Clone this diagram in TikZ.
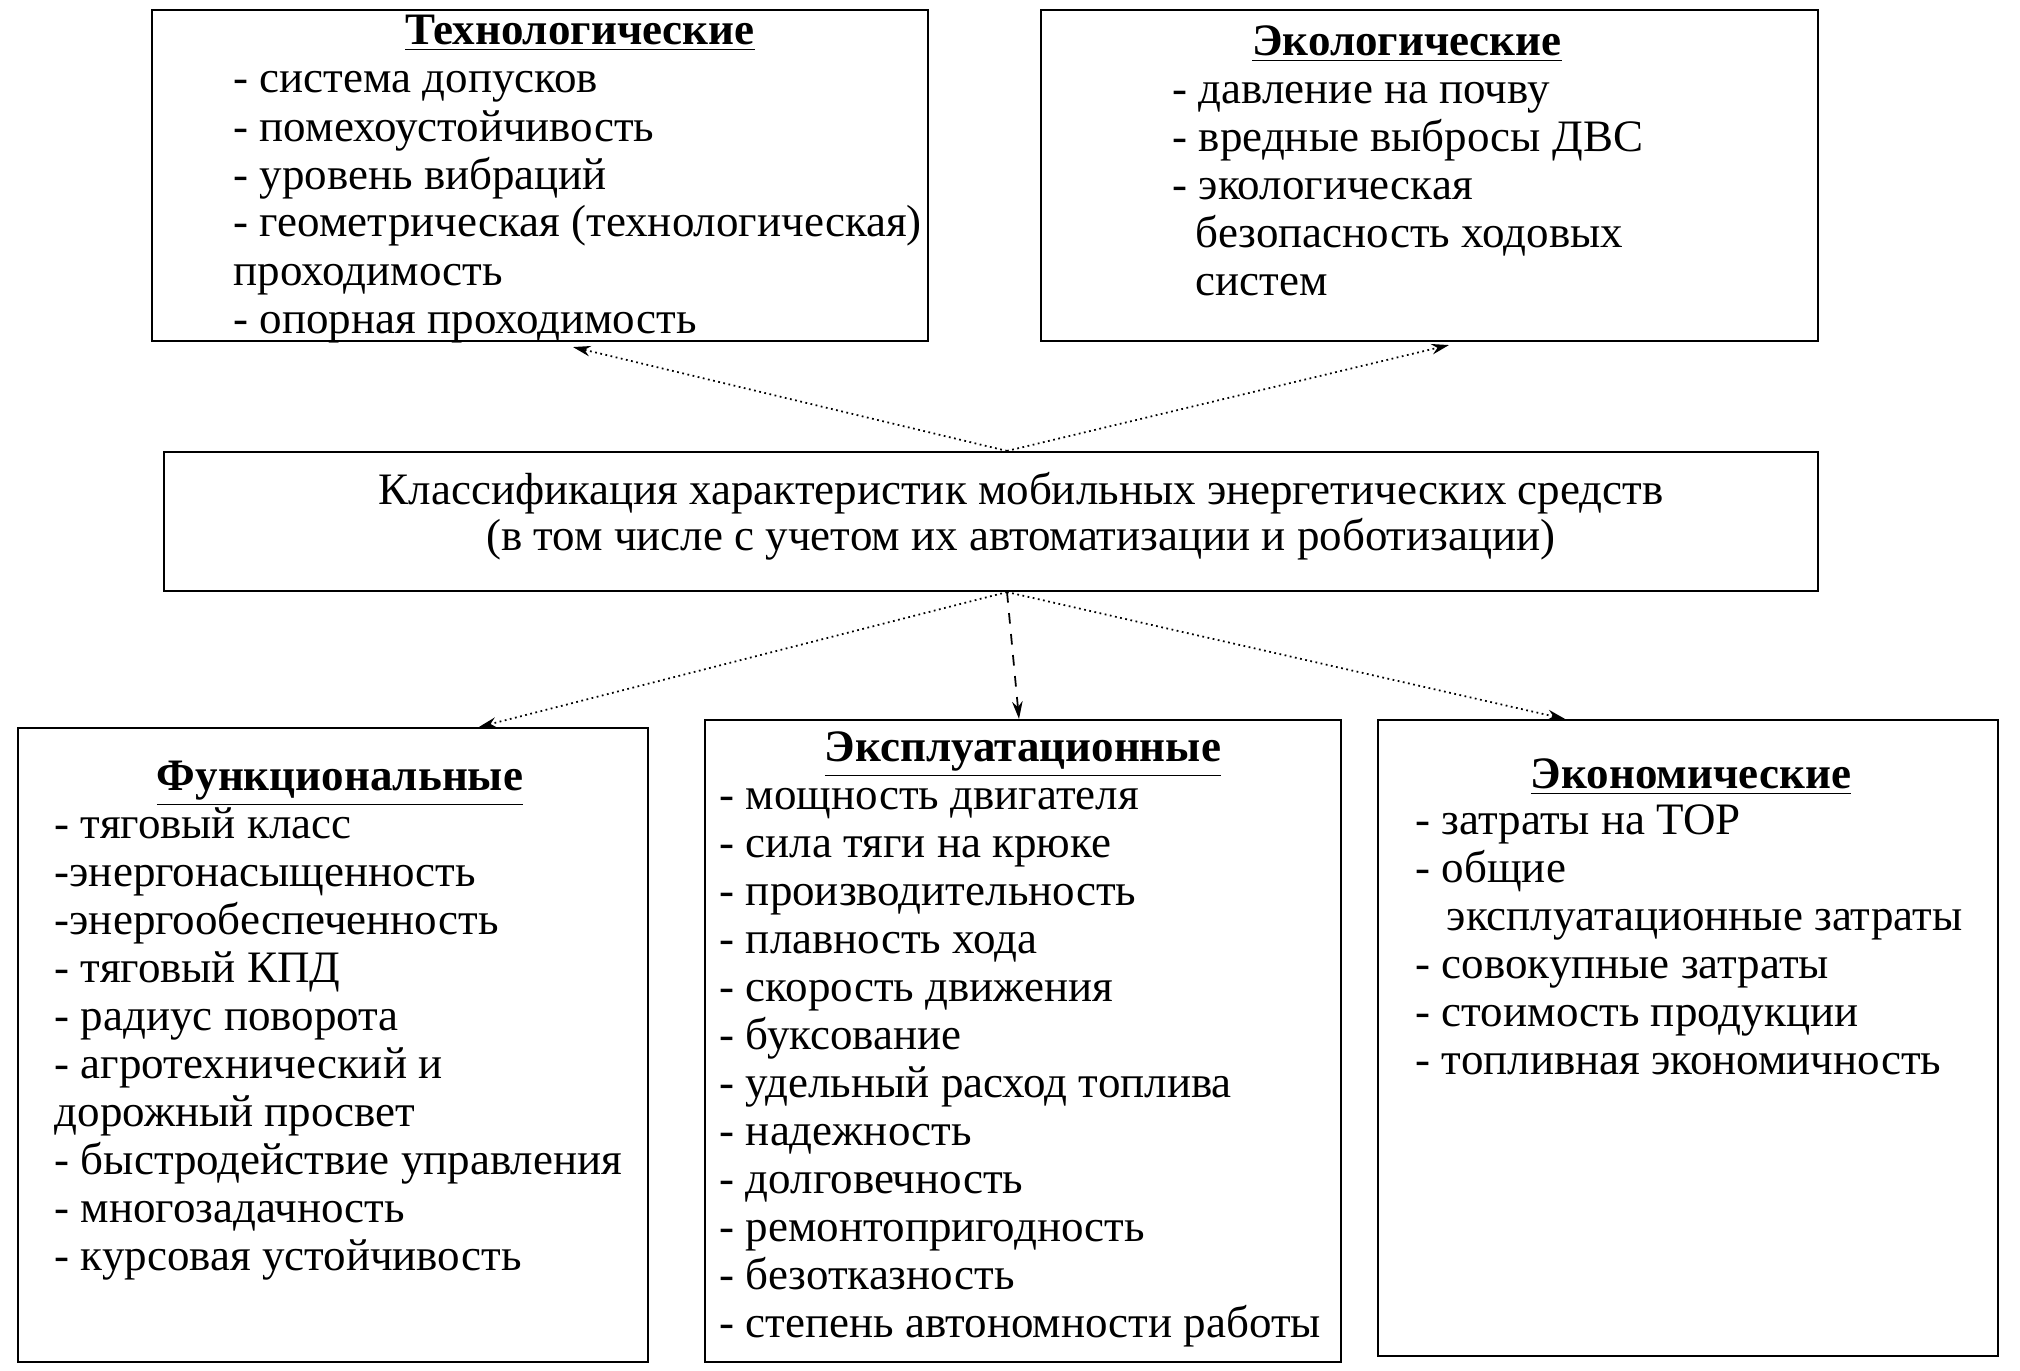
\documentclass[tikz,border=0pt]{standalone}
\usepackage{fontspec}
\setmainfont{Liberation Serif}
\usetikzlibrary{arrows.meta, positioning, calc}

\begin{document}
\begin{tikzpicture}[
        frame/.style={rectangle, draw, line width=0.6pt, inner sep=0pt},
        head/.style={font=\fontsize{12.8}{14}\selectfont\bfseries, inner sep=0pt, anchor=base},
        item/.style={font=\fontsize{12.8}{14}\selectfont, inner sep=0pt, anchor=base west},
        link/.style={-{Stealth[length=5pt,width=3pt]}, densely dotted, line width=0.5pt},
        dlink/.style={-{Stealth[length=5pt,width=3pt]}, dashed, line width=0.5pt}
    ]
        \useasboundingbox (0,0) rectangle (20.20,-13.71);

        % Frames
        \node[frame, minimum width=7.76cm, minimum height=3.31cm] (tech) at (5.40,-1.755) {};
        \node[frame, minimum width=7.77cm, minimum height=3.31cm] (eco) at (14.295,-1.755) {};
        \node[frame, minimum width=16.54cm, minimum height=1.39cm] (cls) at (9.91,-5.215) {};
        \node[frame, minimum width=6.30cm, minimum height=6.34cm] (func) at (3.33,-10.45) {};
        \node[frame, minimum width=6.36cm, minimum height=6.42cm] (expl) at (10.23,-10.41) {};
        \node[frame, minimum width=6.20cm, minimum height=6.36cm] (econ) at (16.88,-10.38) {};

        % Central text
        \node[item, anchor=base] (cls1) at (10.21,-5.04) {Классификация характеристик мобильных энергетических средств};
        \node[item, anchor=base] (cls2) at (10.21,-5.50) {(в том числе с учетом их автоматизации и роботизации)};

        % Technological
        \node[head] (techH) at (5.80,-0.44) {\underline{Технологические}};
        \foreach \t [count=\i] in {- система допусков, - помехоустойчивость, - уровень вибраций,
            - геометрическая (технологическая), проходимость, - опорная проходимость}
            \node[item] (tech-\i) at (2.33,-0.45-0.48*\i) {\t};

        % Ecological
        \node[head] (ecoH) at (14.07,-0.55) {\underline{Экологические}};
        \foreach \dx/\t [count=\i] in {0/{- давление на почву}, 0/{- вредные выбросы ДВС},
            0/{- экологическая}, 0.23/{безопасность ходовых}, 0.23/{систем}}
            \node[item] (eco-\i) at (11.72+\dx,-0.55-0.48*\i) {\t};

        % Functional
        \node[head] (funcH) at (3.40,-7.90) {\underline{Функциональные}};
        \foreach \t [count=\i] in {- тяговый класс, -энергонасыщенность, -энергообеспеченность,
            - тяговый КПД, - радиус поворота, - агротехнический и, дорожный просвет,
            - быстродействие управления, - многозадачность, - курсовая устойчивость}
            \node[item] (func-\i) at (0.54,-7.90-0.48*\i) {\t};

        % Operational
        \node[head] (explH) at (10.23,-7.61) {\underline{Эксплуатационные}};
        \foreach \t [count=\i] in {- мощность двигателя, - сила тяги на крюке, - производительность,
            - плавность хода, - скорость движения, - буксование, - удельный расход топлива,
            - надежность, - долговечность, - ремонтопригодность, - безотказность,
            - степень автономности работы}
            \node[item] (expl-\i) at (7.19,-7.61-0.48*\i) {\t};

        % Economic
        \node[head] (econH) at (16.91,-7.88) {\underline{Экономические}};
        \foreach \dx/\t [count=\i] in {0/{- затраты на ТОР}, 0/{- общие},
            0.31/{эксплуатационные затраты}, 0/{- совокупные затраты},
            0/{- стоимость продукции}, 0/{- топливная экономичность}}
            \node[item] (econ-\i) at (14.15+\dx,-7.86-0.48*\i) {\t};

        % Arrows
        \coordinate (hubU) at ([xshift=0.16cm]cls.north);
        \coordinate (hubD) at ([xshift=0.16cm]cls.south);
        \draw[link] (hubU) -- ([xshift=0.33cm, yshift=-0.05cm]tech.south);
        \draw[link] (hubU) -- ([xshift=0.195cm, yshift=-0.03cm]eco.south);
        \draw[link] (hubD) -- ([xshift=1.46cm]func.north);
        \draw[dlink] (hubD) -- ([xshift=-0.04cm]expl.north);
        \draw[link] (hubD) -- ([xshift=-1.23cm]econ.north);

    \end{tikzpicture}
\end{document}
